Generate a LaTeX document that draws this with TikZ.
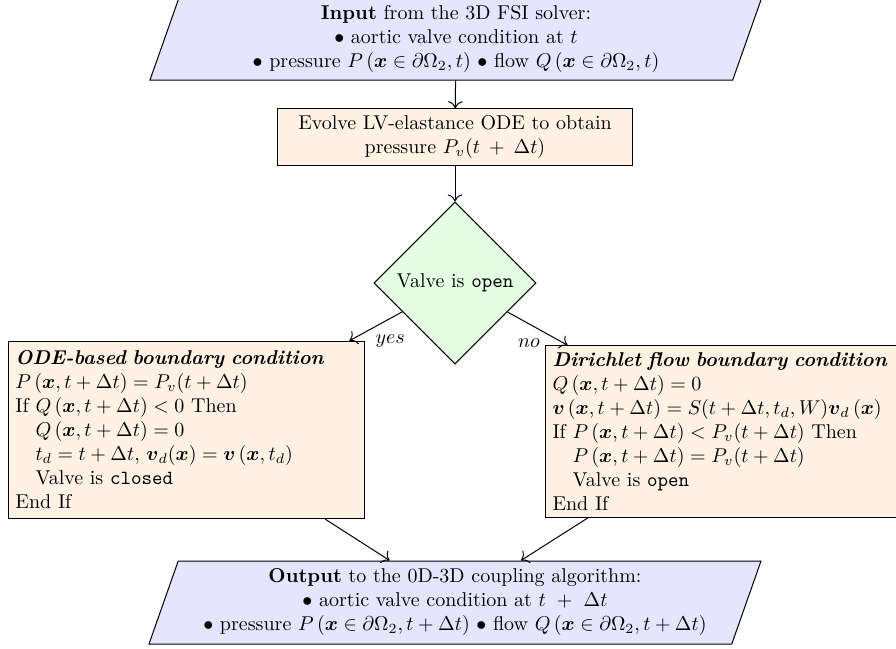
\documentclass[tikz,border=0pt]{standalone}
\usepackage{amsmath,amssymb}
\usetikzlibrary{shapes.geometric,arrows.meta}
\colorlet{iocol}{blue!10}
\colorlet{proccol}{orange!10}
\colorlet{deccol}{green!10}
\begin{document}
\begin{tikzpicture}[x=0.5pt,y=-0.5pt, line width=0.5pt,
  iobox/.style={trapezium, trapezium left angle=70, trapezium right angle=110,
    trapezium stretches body, draw, fill=iocol, align=center,
    minimum width=306pt, minimum height=41.5pt},
  procbox/.style={rectangle, draw, fill=proccol, text width=171pt},
  decbox/.style={diamond, aspect=1, draw, fill=deccol, inner sep=3.4pt},
  conn/.style={-{To[scale=1.3]}},
  lbl/.style={inner sep=1pt, yshift=-2.5pt}]
\clip (0,0) rectangle (896,649);
\node[iobox] (in) at (456,38.5) {\textbf{Input} from the 3D FSI solver:\\
  $\bullet$ aortic valve condition at $t$\\
  $\bullet$ pressure $P\left(\boldsymbol{x}\in\partial\Omega_2,t\right)$ $\bullet$ flow $Q\left(\boldsymbol{x}\in\partial\Omega_2,t\right)$};
\node[procbox, align=center] (ode) at (455,137) {Evolve LV-elastance ODE to obtain\\ pressure $P_v(t + \Delta t)$};
\node[decbox] (dec) at (455,283) {Valve is \texttt{open}};
\node[procbox, align=left, inner ysep=4.8pt] (lbox) at (186.5,430) {\textbf{\textit{ODE-based boundary condition}}\\
  $P\left(\boldsymbol{x},t+\Delta t\right)=P_v(t+\Delta t)$\\
  If $Q\left(\boldsymbol{x},t+\Delta t\right)<0$ Then\\
  \hspace*{1em}$Q\left(\boldsymbol{x},t+\Delta t\right)=0$\\
  \hspace*{1em}$t_d=t+\Delta t$, $\boldsymbol{v}_d(\boldsymbol{x})=\boldsymbol{v}\left(\boldsymbol{x},t_d\right)$\\
  \hspace*{1em}Valve is \texttt{closed}\\
  End If};
\node[procbox, align=left] (rbox) at (723.5,431.5) {\mbox{\textbf{\textit{Dirichlet flow boundary condition}}}\\
  $Q\left(\boldsymbol{x},t+\Delta t\right)=0$\\
  $\boldsymbol{v}\left(\boldsymbol{x},t+\Delta t\right)=S(t+\Delta t,t_d,W)\boldsymbol{v}_d\left(\boldsymbol{x}\right)$\\
  If $P\left(\boldsymbol{x},t+\Delta t\right)<P_v(t+\Delta t)$ Then\\
  \hspace*{1em}$P\left(\boldsymbol{x},t+\Delta t\right)=P_v(t+\Delta t)$\\
  \hspace*{1em}Valve is \texttt{open}\\
  End If};
\node[iobox] (out) at (455,602.5) {\textbf{Output} to the 0D-3D coupling algorithm:\\
  $\bullet$ aortic valve condition at $t\ +\ \Delta t$\\
  $\bullet$ pressure $P\left(\boldsymbol{x}\in\partial\Omega_2,t+\Delta t\right)$ $\bullet$ flow $Q\left(\boldsymbol{x}\in\partial\Omega_2,t+\Delta t\right)$};
\draw[conn] (in) -- (ode);
\draw[conn] (ode) -- (dec);
\draw[conn] (dec) -- node[lbl, pos=0.55, anchor=north west] {$yes$} (lbox);
\draw[conn] (dec) -- node[lbl, pos=0.58, anchor=north east] {$no$} (rbox);
\draw[conn] (lbox) -- (out);
\draw[conn] (rbox) -- (out);
\end{tikzpicture}
\end{document}
